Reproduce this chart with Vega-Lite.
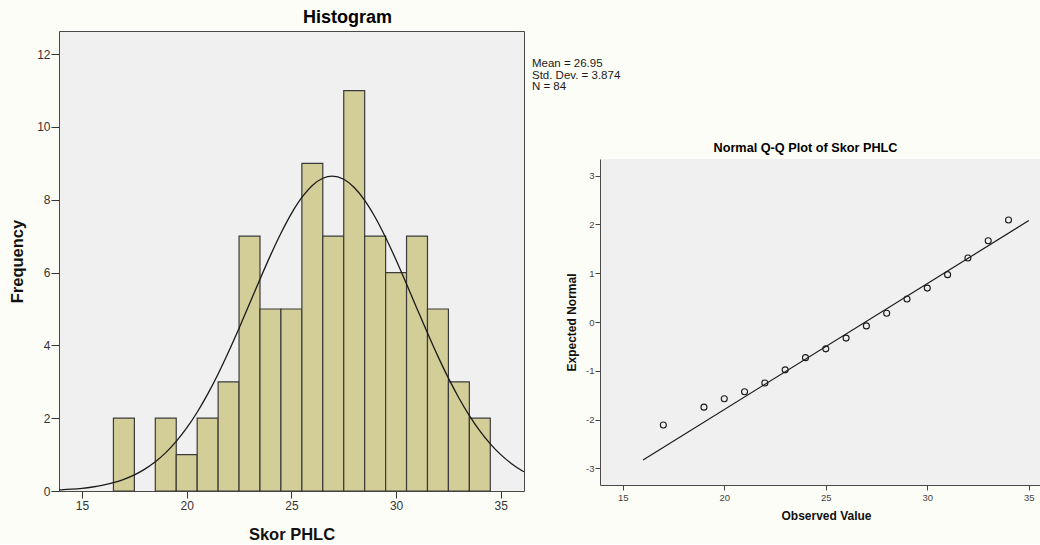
{
  "$schema": "https://vega.github.io/schema/vega-lite/v6.json",
  "background": "#FDFDF8",
  "padding": {"left": 8, "top": 8, "right": 0, "bottom": 0},
  "config": {
    "font": "Liberation Sans",
    "axis": {"labelFont": "Liberation Sans", "titleFont": "Liberation Sans"},
    "title": {"font": "Liberation Sans"},
    "text": {"font": "Liberation Sans"}
  },
  "datasets": {
    "bins": [
      {"x": 16.5, "x2": 17.5, "y": 2},
      {"x": 18.5, "x2": 19.5, "y": 2},
      {"x": 19.5, "x2": 20.5, "y": 1},
      {"x": 20.5, "x2": 21.5, "y": 2},
      {"x": 21.5, "x2": 22.5, "y": 3},
      {"x": 22.5, "x2": 23.5, "y": 7},
      {"x": 23.5, "x2": 24.5, "y": 5},
      {"x": 24.5, "x2": 25.5, "y": 5},
      {"x": 25.5, "x2": 26.5, "y": 9},
      {"x": 26.5, "x2": 27.5, "y": 7},
      {"x": 27.5, "x2": 28.5, "y": 11},
      {"x": 28.5, "x2": 29.5, "y": 7},
      {"x": 29.5, "x2": 30.5, "y": 6},
      {"x": 30.5, "x2": 31.5, "y": 7},
      {"x": 31.5, "x2": 32.5, "y": 5},
      {"x": 32.5, "x2": 33.5, "y": 3},
      {"x": 33.5, "x2": 34.5, "y": 2}
    ],
    "curve": [
      {"x": 13.9, "y": 0.0297}, {"x": 14, "y": 0.0324}, {"x": 14.5, "y": 0.0495},
      {"x": 15, "y": 0.0743}, {"x": 15.5, "y": 0.1097}, {"x": 16, "y": 0.1593},
      {"x": 16.5, "y": 0.2275}, {"x": 17, "y": 0.3198}, {"x": 17.5, "y": 0.4417},
      {"x": 18, "y": 0.5998}, {"x": 18.5, "y": 0.8016}, {"x": 19, "y": 1.0536},
      {"x": 19.5, "y": 1.3616}, {"x": 20, "y": 1.7309}, {"x": 20.5, "y": 2.1634},
      {"x": 21, "y": 2.66}, {"x": 21.5, "y": 3.216}, {"x": 22, "y": 3.824},
      {"x": 22.5, "y": 4.472}, {"x": 23, "y": 5.144}, {"x": 23.5, "y": 5.819},
      {"x": 24, "y": 6.473}, {"x": 24.5, "y": 7.082}, {"x": 25, "y": 7.621},
      {"x": 25.5, "y": 8.065}, {"x": 26, "y": 8.394}, {"x": 26.5, "y": 8.592},
      {"x": 26.95, "y": 8.65}, {"x": 27.5, "y": 8.563}, {"x": 28, "y": 8.338},
      {"x": 28.5, "y": 7.985}, {"x": 29, "y": 7.52}, {"x": 29.5, "y": 6.965},
      {"x": 30, "y": 6.345}, {"x": 30.5, "y": 5.684}, {"x": 31, "y": 5.009},
      {"x": 31.5, "y": 4.34}, {"x": 32, "y": 3.699}, {"x": 32.5, "y": 3.1},
      {"x": 33, "y": 2.555}, {"x": 33.5, "y": 2.072}, {"x": 34, "y": 1.652},
      {"x": 34.5, "y": 1.295}, {"x": 35, "y": 0.9986}, {"x": 35.5, "y": 0.7575},
      {"x": 36, "y": 0.5649}, {"x": 36.11, "y": 0.5285}
    ],
    "qq": [
      {"x": 17, "y": -2.11}, {"x": 19, "y": -1.745}, {"x": 20, "y": -1.574},
      {"x": 21, "y": -1.43}, {"x": 22, "y": -1.25}, {"x": 23, "y": -0.98},
      {"x": 24, "y": -0.73}, {"x": 25, "y": -0.55}, {"x": 26, "y": -0.33},
      {"x": 27, "y": -0.08}, {"x": 28, "y": 0.18}, {"x": 29, "y": 0.47},
      {"x": 30, "y": 0.695}, {"x": 31, "y": 0.97}, {"x": 32, "y": 1.31},
      {"x": 33, "y": 1.665}, {"x": 34, "y": 2.09}
    ],
    "qqline": [
      {"x": 16, "y": -2.827},
      {"x": 35, "y": 2.078}
    ]
  },
  "spacing": 76,
  "bounds": "flush",
  "hconcat": [
    {
      "width": 465,
      "height": 460,
      "view": {"fill": "#F0F0F0", "stroke": "#4A4A4A", "strokeWidth": 1},
      "title": {
        "text": "Histogram", "fontSize": 18, "fontWeight": "bold", "color": "#000000",
        "anchor": "middle", "dx": 56, "baseline": "alphabetic", "offset": -9.5
      },
      "layer": [
        {
          "data": {"name": "bins"},
          "mark": {"type": "bar", "fill": "#D3CE98", "stroke": "#3A3A3A", "strokeWidth": 1.2},
          "encoding": {
            "x": {
              "field": "x", "type": "quantitative",
              "scale": {"domain": [13.9, 36.11], "nice": false, "zero": false},
              "axis": {
                "orient": "bottom",
                "values": [15, 20, 25, 30, 35], "title": "Skor PHLC", "grid": false, "domain": false,
                "tickSize": 7, "tickColor": "#333333", "labelFontSize": 12, "labelColor": "#333333",
                "labelPadding": 2, "labelFlush": false, "titleFontSize": 16.5, "titleFontWeight": "bold",
                "titleColor": "#111111", "titleBaseline": "alphabetic", "titleY": 48.3
              }
            },
            "x2": {"field": "x2"},
            "y": {
              "field": "y", "type": "quantitative",
              "scale": {"domain": [0, 12.637], "nice": false},
              "axis": {
                "orient": "left",
                "values": [0, 2, 4, 6, 8, 10, 12], "title": "Frequency", "grid": false, "domain": false,
                "tickSize": 8, "tickColor": "#333333", "labelFontSize": 12, "labelColor": "#333333",
                "labelPadding": 1, "labelFlush": false, "titleFontSize": 16.5, "titleFontWeight": "bold",
                "titleColor": "#111111", "titleBaseline": "alphabetic", "titleX": -37
              }
            },
            "y2": {"datum": 0}
          }
        },
        {
          "data": {"name": "curve"},
          "mark": {"type": "line", "color": "#1A1A1A", "strokeWidth": 1.3, "interpolate": "monotone"},
          "encoding": {
            "x": {"field": "x", "type": "quantitative"},
            "y": {"field": "y", "type": "quantitative"}
          }
        },
        {
          "data": {"values": [{}]},
          "mark": {"type": "text", "align": "left", "baseline": "alphabetic", "fontSize": 11.5, "lineHeight": 11.5, "color": "#1A1A1A"},
          "encoding": {
            "x": {"datum": 36.49},
            "y": {"datum": 11.648},
            "text": {"value": ["Mean = 26.95", "Std. Dev. = 3.874", "N = 84"]}
          }
        }
      ]
    },
    {
      "spacing": 0,
      "bounds": "flush",
      "vconcat": [
        {
          "width": 441,
          "height": 128,
          "view": {"stroke": null, "fill": null},
          "data": {"values": [{"t": ""}]},
          "mark": "text",
          "encoding": {"text": {"field": "t", "type": "nominal"}}
        },
        {
          "width": 441,
          "height": 326,
          "view": {"fill": "#F0F0F0", "stroke": null},
          "title": {
            "text": "Normal Q-Q Plot of Skor PHLC", "fontSize": 12.7, "fontWeight": "bold", "color": "#000000",
            "anchor": "middle", "dx": -15, "baseline": "alphabetic", "offset": -5.5
          },
          "layer": [
            {
              "data": {"name": "qqline"},
              "mark": {"type": "line", "color": "#1A1A1A", "strokeWidth": 1.2},
              "encoding": {
                "x": {
                  "field": "x", "type": "quantitative",
                  "scale": {"domain": [13.88, 35.6], "nice": false, "zero": false},
                  "axis": {
                    "orient": "bottom",
                    "values": [15, 20, 25, 30, 35], "title": "Observed Value", "grid": false,
                    "domain": true, "domainColor": "#4A4A4A", "tickSize": 5, "tickColor": "#444444",
                    "labelFontSize": 9.5, "labelColor": "#444444", "labelPadding": 2, "labelFlush": false,
                    "titleFontSize": 12, "titleFontWeight": "bold", "titleColor": "#111111",
                    "titleBaseline": "alphabetic", "titleY": 34.3, "titleX": 226
                  }
                },
                "y": {
                  "field": "y", "type": "quantitative",
                  "scale": {"domain": [-3.34, 3.34], "nice": false, "zero": false},
                  "axis": {
                    "orient": "left",
                    "values": [-3, -2, -1, 0, 1, 2, 3], "format": "d",
                    "labelExpr": "replace(datum.label, '−', '-')",
                    "title": "Expected Normal", "grid": false,
                    "domain": true, "domainColor": "#4A4A4A", "tickSize": 5, "tickColor": "#444444",
                    "labelFontSize": 9.5, "labelColor": "#444444", "labelPadding": 1, "labelFlush": false,
                    "titleFontSize": 12, "titleFontWeight": "bold", "titleColor": "#111111",
                    "titleBaseline": "alphabetic", "titleX": -24.5
                  }
                }
              }
            },
            {
              "data": {"name": "qq"},
              "mark": {"type": "point", "shape": "circle", "filled": false, "size": 36, "color": "#1A1A1A", "strokeWidth": 1.1, "opacity": 1},
              "encoding": {
                "x": {"field": "x", "type": "quantitative"},
                "y": {"field": "y", "type": "quantitative"}
              }
            },
            {
              "mark": {"type": "rule", "color": "#4A4A4A", "strokeWidth": 1},
              "encoding": {"y": {"datum": 3.34}}
            }
          ]
        }
      ]
    }
  ]
}
